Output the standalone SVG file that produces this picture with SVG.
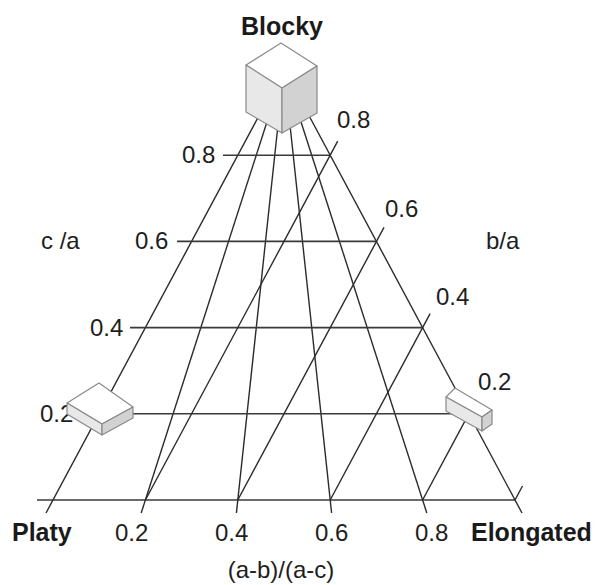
<svg xmlns="http://www.w3.org/2000/svg" width="595" height="585" viewBox="0 0 595 585">
  <style>
    .ln { stroke: #2b2b2b; stroke-width: 1.4; fill: none; stroke-linecap: butt; }
    .grid { stroke: #3a3a3a; stroke-width: 1.6; fill: none; }
    .lbl { font-family: "Liberation Sans", Arial, sans-serif; font-size: 24px; fill: #1e1e1e; }
    .ttl { font-family: "Liberation Sans", Arial, sans-serif; font-size: 25px; font-weight: bold; fill: #1a1a1a; }
    .edge { stroke: #8a8a8a; stroke-width: 1.2; stroke-linejoin: round; }
    .top { fill: #ffffff; }
    .side { fill: #e8e8e8; }
    .dark { fill: #d2d2d2; }
  </style>

  <rect width="595" height="585" fill="#ffffff"/>

  <!-- triangle grid: apex (284,69), base corners (53,500) and (515,500) -->
  <g id="connectors">
    <!-- base line -->
    <line class="grid" x1="37" y1="500" x2="515" y2="500"/>
    <!-- sides and fan lines of constant (a-b)/(a-c), from the apex down past the base -->
    <line class="ln" x1="284" y1="69" x2="46" y2="513"/>
    <line class="ln" x1="284" y1="69" x2="141.2" y2="513"/>
    <line class="ln" x1="284" y1="69" x2="236.4" y2="513"/>
    <line class="ln" x1="284" y1="69" x2="331.6" y2="513"/>
    <line class="ln" x1="284" y1="69" x2="426.8" y2="513"/>
    <line class="ln" x1="284" y1="69" x2="522" y2="513"/>
    <!-- horizontal lines of constant c/a -->
    <line class="grid" x1="84" y1="413.8" x2="468.8" y2="413.8"/>
    <line class="grid" x1="130" y1="327.6" x2="422.6" y2="327.6"/>
    <line class="grid" x1="177" y1="241.4" x2="376.4" y2="241.4"/>
    <line class="grid" x1="223" y1="155.2" x2="330.2" y2="155.2"/>
    <!-- lines of constant b/a, parallel to the left side -->
    <line class="ln" x1="145.4" y1="500" x2="337.7" y2="141.2"/>
    <line class="ln" x1="237.8" y1="500" x2="384" y2="227.4"/>
    <line class="ln" x1="330.2" y1="500" x2="430.1" y2="313.6"/>
    <line class="ln" x1="422.6" y1="500" x2="476.3" y2="399.8"/>
    <line class="ln" x1="515" y1="500" x2="522.5" y2="486"/>
  </g>

  <!-- c/a scale -->
  <g id="scale-ca">
    <text class="lbl" x="41" y="249">c /a</text>
    <text class="lbl" x="182" y="163">0.8</text>
    <text class="lbl" x="135" y="249">0.6</text>
    <text class="lbl" x="90" y="336">0.4</text>
    <text class="lbl" x="40" y="422">0.2</text>
  </g>

  <!-- b/a scale -->
  <g id="scale-ba">
    <text class="lbl" x="486" y="249">b/a</text>
    <text class="lbl" x="337" y="128">0.8</text>
    <text class="lbl" x="385" y="217">0.6</text>
    <text class="lbl" x="436" y="305">0.4</text>
    <text class="lbl" x="478" y="390">0.2</text>
  </g>

  <!-- (a-b)/(a-c) scale -->
  <g id="scale-ab">
    <text class="lbl" x="115" y="541">0.2</text>
    <text class="lbl" x="215" y="541">0.4</text>
    <text class="lbl" x="315" y="541">0.6</text>
    <text class="lbl" x="415" y="541">0.8</text>
    <text class="lbl" x="281" y="578" text-anchor="middle">(a-b)/(a-c)</text>
  </g>

  <!-- top corner: cube -->
  <g id="blocky">
    <polygon class="top edge" points="281,43 317,66 282,88 246,65"/>
    <polygon class="side edge" points="246,65 282,88 282,133 246,112"/>
    <polygon class="dark edge" points="282,88 317,66 317,113 282,133"/>
    <text class="ttl" x="282" y="35" text-anchor="middle">Blocky</text>
  </g>

  <!-- bottom-left corner: flat slab -->
  <g id="platy">
    <polygon class="top edge" points="99,383 133,407 102,424 67,403"/>
    <polygon class="side edge" points="67,403 102,424 102,435 67,414"/>
    <polygon class="dark edge" points="102,424 133,407 133,418 102,435"/>
    <text class="ttl" x="12" y="541">Platy</text>
  </g>

  <!-- bottom-right corner: elongated bar -->
  <g id="elongated">
    <polygon class="top edge" points="455,388 492,410 482,417 446,397"/>
    <polygon class="side edge" points="446,397 482,417 482,431 446,411"/>
    <polygon class="dark edge" points="482,417 492,410 492,424 482,431"/>
    <text class="ttl" x="471" y="541">Elongated</text>
  </g>
</svg>
